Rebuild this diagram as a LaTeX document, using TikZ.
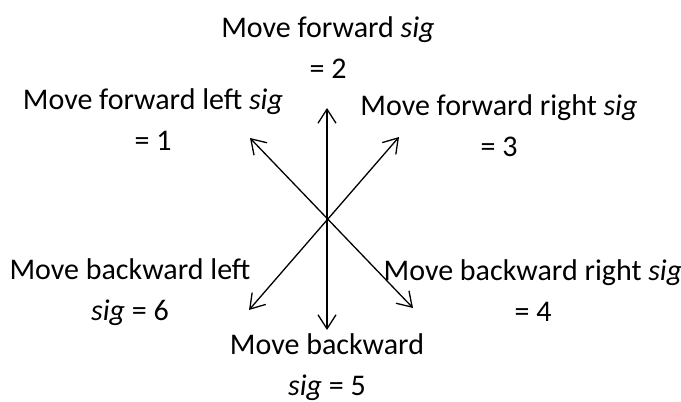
\documentclass[tikz,border=0pt]{standalone}
\usepackage{fontspec}
\setmainfont{Carlito}
\usepackage{tikz}
\usetikzlibrary{positioning, arrows.meta}
\newcommand{\sig}{\textit{sig}}

\begin{document}
\begin{tikzpicture}[
    x=1pt, y=-1pt,
    lbl/.style={align=center, anchor=base, inner sep=0pt, font=\fontsize{30}{41}\selectfont},
    arr/.style={{Straight Barb[length=14pt, width=18pt]}-{Straight Barb[length=14pt, width=18pt]}, line width=1.3pt, black}
]
    \useasboundingbox (0,0) rectangle (681,402);
    \coordinate (up) at (327,108);
    \coordinate (down) at (327,330);
    \coordinate (ul) at (250,138);
    \coordinate (dr) at (413,308);
    \coordinate (ur) at (399,137);
    \coordinate (dl) at (249,310);
    % labels, placed at the baseline of their last line
    \node[lbl] (fwd) at (328,78) {Move forward \sig\\ = 2};
    \node[lbl] (fwdleft) at (153,150) {Move forward left \sig\\ = 1};
    \node[lbl] (fwdright) at (499,156) {Move forward right \sig\\ = 3};
    \node[lbl] (bwdleft) at (130,320) {Move backward left\\ \sig{} = 6};
    \node[lbl] (bwdright) at (533,321) {Move backward right \sig\\ = 4};
    \node[lbl] (bwd) at (327,395) {Move backward\\ \sig{} = 5};
    \draw[arr] (down) -- (up);
    \draw[arr] (ul) -- (dr);
    \draw[arr] (dl) -- (ur);
\end{tikzpicture}
\end{document}
